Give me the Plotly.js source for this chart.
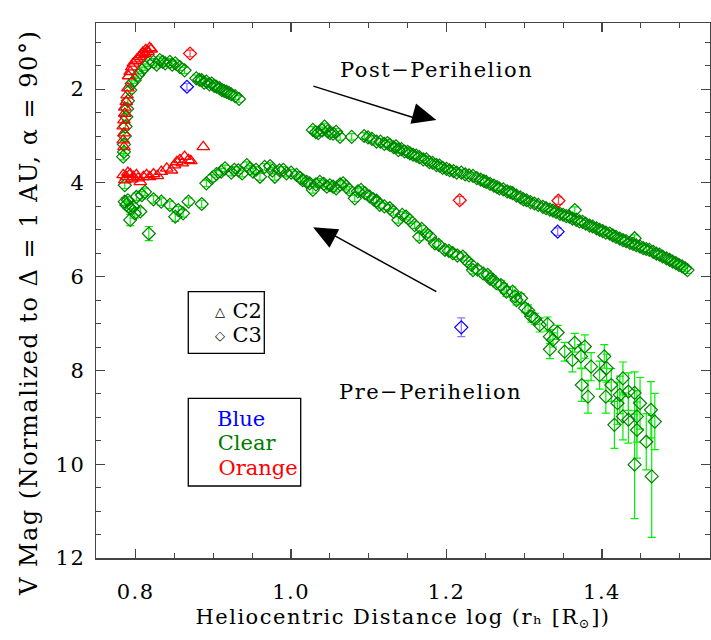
<!DOCTYPE html>
<html><head><meta charset="utf-8">
<script src="https://cdn.plot.ly/plotly-3.0.1.min.js"></script>
<style>body{margin:0;background:#fff} text{letter-spacing:1.5px}</style>
</head><body><div id="chart" style="width:711px;height:640px"></div>
<script>
// ---------- data ----------
var xTickVals = [0.8, 1.0, 1.2, 1.4];
var xTickText = ['0.8', '1.0', '1.2', '1.4'];
var yTickVals = [2, 4, 6, 8, 10, 12];
var yTickText = ['2', '4', '6', '8', '10', '12'];

// C2 orange (triangles)
var c2OrangeX = [0.785,0.784,0.785,0.784,0.785,0.786,0.786,0.788,0.789,0.790,0.791,0.793,0.795,0.797,0.800,0.802,0.805,0.807,0.809,0.812,0.813,0.816,0.818,0.820,
  0.784,0.786,0.788,0.790,0.793,0.795,0.797,0.801,0.803,0.806,0.810,0.814,0.818,0.823,0.828,0.833,0.840,0.846,0.850,0.853,0.857,0.860,0.863,0.868,0.871,0.887];
var c2OrangeY = [3.23,3.09,2.94,2.79,2.66,2.52,2.39,2.27,2.13,1.98,1.72,1.63,1.53,1.45,1.40,1.36,1.31,1.27,1.22,1.24,1.16,1.20,1.12,1.15,
  3.83,3.94,3.87,3.78,3.81,3.92,3.87,3.83,3.90,3.98,3.87,3.83,3.87,3.81,3.85,3.76,3.69,3.73,3.62,3.55,3.51,3.58,3.44,3.51,3.53,3.23];

// C3 clear (diamonds) - early post-perihelion arc
var clearArcX = [0.784,0.785,0.785,0.786,0.787,0.788,0.789,0.790,0.793,0.795,0.799,0.803,0.808,0.812,0.816,0.823,0.827,0.831,0.835,0.838,0.844,0.847,0.851,0.857,0.863,
  0.878,0.882,0.885,0.888,0.891,0.895,0.898,0.901,0.904,0.908,0.911,0.914,0.917,0.920,0.923,0.928,0.933];
var clearArcY = [3.44,3.34,3.18,3.00,2.80,2.59,2.42,2.25,2.02,1.88,1.81,1.70,1.60,1.53,1.45,1.42,1.48,1.38,1.42,1.45,1.42,1.48,1.45,1.53,1.60,
  1.77,1.80,1.81,1.86,1.84,1.90,1.88,1.93,1.95,1.98,2.02,2.04,2.06,2.08,2.11,2.15,2.21];
var clearArcErr = [0.07,0.07,0.07,0.07,0.07,0.07,0.07,0.07,0.07,0.07,0.07,0.07,0.07,0.07,0.07,0.07,0.07,0.07,0.07,0.07,0.07,0.07,0.07,0.07,0.07,
  0.07,0.07,0.07,0.07,0.07,0.07,0.07,0.07,0.07,0.07,0.07,0.07,0.07,0.07,0.07,0.07,0.07];

// C3 clear - early faint cluster
var clearLowX = [0.786,0.786,0.788,0.790,0.793,0.793,0.797,0.799,0.801,0.806,0.808,0.812,0.817,0.823,0.833,0.844,0.851,0.855,0.861,0.868,0.885];
var clearLowY = [4.05,4.40,4.47,4.37,4.54,4.79,4.51,4.65,4.30,4.61,4.26,4.19,5.08,4.35,4.40,4.47,4.72,4.58,4.65,4.40,4.45];
var clearLowErr = [0.07,0.08,0.08,0.08,0.08,0.12,0.08,0.1,0.08,0.08,0.08,0.08,0.15,0.08,0.08,0.08,0.1,0.08,0.08,0.08,0.08];

// C3 clear - pre-perihelion branch
var clearPreX = [0.891,0.898,0.904,0.910,0.915,0.923,0.927,0.932,0.937,0.943,0.947,0.951,0.955,0.960,0.966,0.973,0.976,0.979,0.985,0.990,0.994,1.000,1.007,1.012,1.015,1.020,1.024,1.028,1.032,1.037,1.042,1.046,1.050,1.054,1.058,1.063,1.067,1.071,1.075,1.082,1.086,1.090,1.095,1.101,1.106,1.110,1.114,1.120,1.127,1.132,1.138,1.143,1.148,1.153,1.159,1.165,1.168,1.174,1.179,1.185,1.190,1.198,1.203,1.208,1.214,1.221,1.226,1.232,1.234,1.240,1.247,1.253,1.256,1.260,1.264,1.270,1.274,1.277,1.285,1.288,1.290,1.296,1.301,1.305,1.309,1.314,1.320,
  1.330,1.333,1.337,1.343,1.333,1.352,1.365,1.378,1.362,1.373,1.386,1.397,1.403,1.374,1.382,1.406,1.412,1.405,1.427,1.434,1.423,1.442,1.420,1.416,1.427,1.434,1.445,1.445,1.449,1.463,1.468,1.457,1.442,1.464];
var clearPreY = [4.01,3.90,3.81,3.76,3.69,3.78,3.72,3.73,3.80,3.62,3.70,3.76,3.72,3.87,3.66,3.64,3.74,3.87,3.73,3.72,3.80,3.78,3.83,3.90,3.94,3.98,4.01,4.15,4.03,3.98,4.02,4.08,4.05,4.08,4.12,4.03,4.01,4.08,4.15,4.33,4.18,4.15,4.22,4.29,4.35,4.38,4.47,4.50,4.54,4.62,4.79,4.68,4.72,4.80,4.90,5.15,4.98,5.08,5.15,5.29,5.32,5.43,5.45,5.50,5.55,5.57,5.66,5.75,5.86,5.85,5.93,5.96,6.05,6.07,6.14,6.18,6.25,6.32,6.32,6.42,6.50,6.46,6.67,6.72,6.85,6.90,7.03,
  7.01,7.28,7.35,7.19,7.55,7.60,7.41,7.49,7.78,7.70,7.92,8.10,7.70,8.31,8.56,7.95,8.31,8.56,8.17,8.45,8.52,8.48,8.70,9.16,8.98,9.05,8.98,9.27,8.70,8.84,9.09,9.52,10.01,10.26];
var clearPreErr = [0.07,0.07,0.07,0.07,0.07,0.07,0.07,0.07,0.07,0.07,0.07,0.07,0.07,0.07,0.07,0.07,0.07,0.07,0.07,0.07,0.07,0.07,0.07,0.07,0.07,0.07,0.07,0.07,0.07,0.07,0.07,0.07,0.07,0.07,0.07,0.07,0.07,0.07,0.07,0.07,0.07,0.07,0.07,0.07,0.07,0.07,0.07,0.07,0.07,0.07,0.07,0.07,0.07,0.07,0.07,0.08,0.07,0.08,0.08,0.08,0.08,0.08,0.08,0.08,0.08,0.08,0.08,0.08,0.08,0.08,0.08,0.08,0.08,0.08,0.08,0.1,0.1,0.1,0.1,0.1,0.1,0.1,0.1,0.12,0.12,0.12,0.15,
  0.15,0.15,0.15,0.15,0.2,0.2,0.2,0.25,0.25,0.25,0.3,0.3,0.25,0.35,0.35,0.3,0.35,0.35,0.35,0.4,0.4,0.45,0.45,0.5,0.5,0.5,0.55,0.6,0.55,0.6,0.6,0.6,1.15,1.3];

// C3 clear - post-perihelion branch
var clearPostX = [1.028,1.032,1.035,1.040,1.043,1.047,1.050,1.054,1.058,1.063,1.078,1.094,1.099,1.104,1.110,1.115,1.120,1.124,1.127,1.132,1.135,1.138,1.142,1.146,1.150,1.153,1.157,1.161,1.165,1.170,1.174,1.178,1.182,1.187,1.191,1.195,1.200,1.204,1.209,1.213,1.219,1.224,1.229,1.234,1.239,1.244,1.248,1.251,1.256,1.261,1.265,1.268,1.273,1.278,1.282,1.285,1.290,1.295,1.299,1.303,1.308,1.313,1.318,1.324,1.328,1.333,1.337,1.341,1.346,1.350,1.354,1.358,1.362,1.365,1.367,1.371,1.375,1.379,1.384,1.388,1.393,1.397,1.401,1.405,1.410,1.414,1.418,1.423,1.427,1.431,1.436,1.440,1.442,1.444,1.449,1.453,1.457,1.461,1.466,1.470,1.474,1.478,1.483,1.487,1.491,1.495,1.499,1.503,1.507,1.510];
var clearPostY = [2.87,2.92,2.94,2.88,2.80,2.90,2.94,2.95,2.91,3.02,3.02,3.00,3.03,3.06,3.12,3.12,3.17,3.15,3.19,3.24,3.22,3.30,3.28,3.33,3.34,3.37,3.40,3.42,3.45,3.50,3.50,3.56,3.57,3.62,3.63,3.68,3.70,3.73,3.75,3.78,3.78,3.82,3.84,3.85,3.90,3.93,3.96,3.98,4.02,4.06,4.09,4.12,4.14,4.18,4.20,4.22,4.27,4.31,4.35,4.37,4.41,4.44,4.47,4.51,4.54,4.57,4.59,4.62,4.66,4.68,4.71,4.72,4.76,4.58,4.79,4.82,4.83,4.87,4.91,4.93,4.97,5.00,5.03,5.06,5.08,5.12,5.15,5.19,5.22,5.24,5.28,5.30,5.18,5.33,5.36,5.39,5.41,5.43,5.47,5.51,5.53,5.57,5.61,5.64,5.68,5.71,5.75,5.78,5.82,5.86];

// C3 orange and blue (diamonds)
var c3OrangeX = [0.870, 1.217, 1.344];
var c3OrangeY = [1.24, 4.37, 4.38];
var c3OrangeErr = [0.07, 0.08, 0.08];
var c3BlueX = [0.866, 1.343, 1.219];
var c3BlueY = [1.95, 5.04, 7.08];
var c3BlueErr = [0.07, 0.08, 0.2];

// ---------- build ----------
var FONT = 'DejaVu Serif';
var clearX = clearArcX.concat(clearLowX, clearPreX, clearPostX);
var clearY = clearArcY.concat(clearLowY, clearPreY, clearPostY);
var clearErr = clearArcErr.concat(clearLowErr, clearPreErr, clearPostY.map(function(){return 0.07;}));

var traces = [
  {x: clearX, y: clearY, type: 'scatter', mode: 'markers', name: 'C3 Clear',
   error_y: {type: 'data', array: clearErr, visible: true, color: '#00f000', thickness: 1.2, width: 4},
   marker: {symbol: 'diamond-open', size: 10, color: '#008000', line: {width: 1.2, color: '#008000'}}},
  {x: c2OrangeX, y: c2OrangeY, type: 'scatter', mode: 'markers', name: 'C2 Orange',
   marker: {symbol: 'triangle-up-open', size: 11, color: '#ff0000', line: {width: 1.3, color: '#ff0000'}}},
  {x: c3OrangeX, y: c3OrangeY, type: 'scatter', mode: 'markers', name: 'C3 Orange',
   error_y: {type: 'data', array: c3OrangeErr, visible: true, color: '#ff4040', thickness: 1.2, width: 4},
   marker: {symbol: 'diamond-open', size: 10, color: '#ff0000', line: {width: 1.2, color: '#ff0000'}}},
  {x: c3BlueX, y: c3BlueY, type: 'scatter', mode: 'markers', name: 'C3 Blue',
   error_y: {type: 'data', array: c3BlueErr, visible: true, color: '#9a6cff', thickness: 1.2, width: 4},
   marker: {symbol: 'diamond-open', size: 10, color: '#0000ff', line: {width: 1.2, color: '#0000ff'}}}
];

var axCol = '#444';
var layout = {
  width: 711, height: 640,
  margin: {l: 96, r: 1, t: 23, b: 82},
  paper_bgcolor: '#fff', plot_bgcolor: '#fff',
  showlegend: false,
  font: {family: FONT, size: 21, color: '#000'},
  xaxis: {
    range: [0.749, 1.539], tickmode: 'array', tickvals: xTickVals, ticktext: xTickText,
    ticks: 'inside', ticklen: 9, tickwidth: 1.2, tickcolor: axCol,
    minor: {tickmode: 'linear', tick0: 0, dtick: 0.05, ticks: 'inside', ticklen: 5, tickwidth: 1, tickcolor: axCol},
    showline: true, linecolor: axCol, linewidth: 1.5, mirror: 'ticks',
    showgrid: false, zeroline: false,
    tickfont: {family: FONT, size: 21}, ticklabelstandoff: 14,
    title: {text: 'Heliocentric Distance log (rₕ [R<span style="font-size:13px">⊙</span>])', font: {family: FONT, size: 21}, standoff: 6}
  },
  yaxis: {
    range: [12, 0.59], tickmode: 'array', tickvals: yTickVals, ticktext: yTickText,
    ticks: 'inside', ticklen: 9, tickwidth: 1.2, tickcolor: axCol,
    minor: {tickmode: 'linear', tick0: 0, dtick: 0.5, ticks: 'inside', ticklen: 5, tickwidth: 1, tickcolor: axCol},
    showline: true, linecolor: axCol, linewidth: 1.5, mirror: 'ticks',
    showgrid: false, zeroline: false,
    tickfont: {family: FONT, size: 21}, ticklabelstandoff: 5
  },
  shapes: [
    {type: 'rect', xref: 'paper', yref: 'paper', x0: 0.1503, x1: 0.2741, y0: 0.3826, y1: 0.4978, line: {color: '#000', width: 1.3}},
    {type: 'rect', xref: 'paper', yref: 'paper', x0: 0.1503, x1: 0.3334, y0: 0.1346, y1: 0.2985, line: {color: '#000', width: 1.3}},
    {type: 'line', xref: 'x', yref: 'y', x0: 1.0287, y0: 1.936, x1: 1.160, y1: 2.620, line: {color: '#000', width: 1.5}},
    {type: 'line', xref: 'x', yref: 'y', x0: 1.1869, y0: 6.320, x1: 1.0500, y1: 5.072, line: {color: '#000', width: 1.5}}
  ],
  annotations: [
    {text: 'V Mag (Normalized to Δ = 1 AU, α = 90°)', xref: 'paper', yref: 'paper', x: -0.109, y: 0.458,
     textangle: -90, showarrow: false, font: {family: FONT, size: 24}, xanchor: 'center', yanchor: 'middle'},
    {text: 'Post−Perihelion', x: 1.1866, y: 1.585, xref: 'x', yref: 'y', showarrow: false, font: {family: FONT, size: 21}},
    {text: 'Pre−Perihelion', x: 1.1796, y: 8.457, xref: 'x', yref: 'y', showarrow: false, font: {family: FONT, size: 21}},
    {text: '△', xref: 'paper', yref: 'paper', x: 0.1901, y: 0.4604, showarrow: false, font: {family: 'DejaVu Sans', size: 13}},
    {text: 'C2', xref: 'paper', yref: 'paper', x: 0.2171, y: 0.4617, xanchor: 'left', showarrow: false, font: {family: FONT, size: 21}},
    {text: '◇', xref: 'paper', yref: 'paper', x: 0.1901, y: 0.4168, showarrow: false, font: {family: 'DejaVu Sans', size: 13}},
    {text: 'C3', xref: 'paper', yref: 'paper', x: 0.2171, y: 0.4168, xanchor: 'left', showarrow: false, font: {family: FONT, size: 21}},
    {text: 'Blue', xref: 'paper', yref: 'paper', x: 0.1889, y: 0.2345, xanchor: 'left', showarrow: false, font: {family: FONT, size: 21, color: '#0000ff'}},
    {text: 'Clear', xref: 'paper', yref: 'paper', x: 0.1889, y: 0.1880, xanchor: 'left', showarrow: false, font: {family: FONT, size: 21, color: '#007a00'}},
    {text: 'Orange', xref: 'paper', yref: 'paper', x: 0.1889, y: 0.1425, xanchor: 'left', showarrow: false, font: {family: FONT, size: 21, color: '#ff0000'}}
  ]
};

Plotly.newPlot('chart', traces, layout, {staticPlot: true, displayModeBar: false}).then(function (gd) {
  var tight = {'Blue': 1, 'Clear': 1, 'Orange': 1, 'C2': 1, 'C3': 1};
  var nodes = gd.querySelectorAll('text');
  for (var i = 0; i < nodes.length; i++) {
    if (tight[nodes[i].textContent.trim()]) nodes[i].style.letterSpacing = '0px';
  }
  // lower the small solar symbol to subscript position
  var tsp = gd.querySelectorAll('.xtitle tspan');
  for (var k = 0; k < tsp.length; k++) {
    if (tsp[k].textContent === '⊙') tsp[k].setAttribute('baseline-shift', '-4');
  }
  // filled arrow heads, placed through the axes' own scales
  var fl = gd._fullLayout, xa = fl.xaxis, ya = fl.yaxis;
  var svg = gd.querySelector('.main-svg .layer-above') || gd.querySelector('.main-svg');
  var heads = [[1.1869, 2.661, 1.0283, 1.936], [1.0283, 4.948, 1.1869, 6.320]];
  heads.forEach(function (h) {
    var tx = xa._offset + xa.l2p(h[0]), ty = ya._offset + ya.l2p(h[1]);
    var sx = xa._offset + xa.l2p(h[2]), sy = ya._offset + ya.l2p(h[3]);
    var dx = tx - sx, dy = ty - sy, L = Math.sqrt(dx * dx + dy * dy), ux = dx / L, uy = dy / L;
    var len = 24, w = 10.5, bx = tx - ux * len, by = ty - uy * len;
    var p = document.createElementNS('http://www.w3.org/2000/svg', 'path');
    p.setAttribute('d', 'M' + tx + ',' + ty + 'L' + (bx - uy * w) + ',' + (by + ux * w) + 'L' + (bx + uy * w) + ',' + (by - ux * w) + 'Z');
    p.setAttribute('fill', '#000');
    svg.appendChild(p);
  });
});
</script></body></html>
